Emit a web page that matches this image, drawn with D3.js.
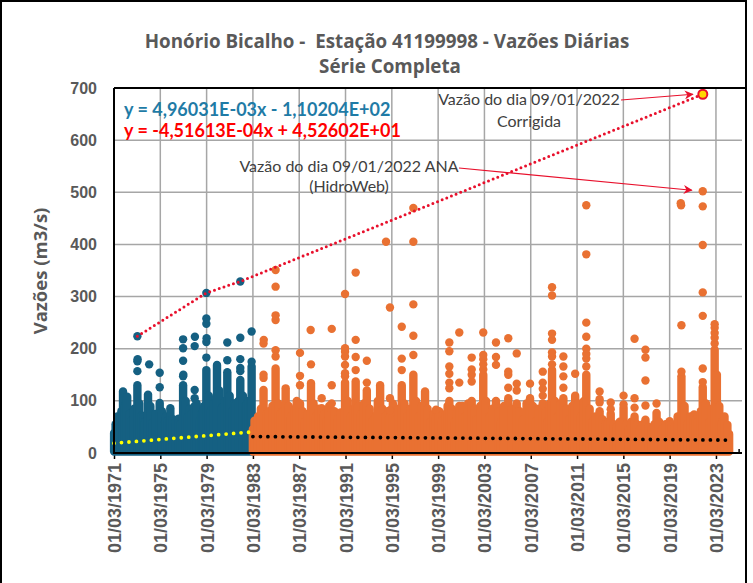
<!DOCTYPE html>
<html>
<head>
<meta charset="utf-8">
<script src="https://cdn.jsdelivr.net/npm/d3@7"></script>
<style>
  body { margin: 0; background: #fff; }
  svg { display: block; }
</style>
</head>
<body>
<div id="chart"></div>
<script>
// ---- values ----
// piles of daily points: [decimal year, top of the solid pile (m3/s)]
const blueStacks = [
  [1971.30, 55], [1971.45, 70], [1971.60, 48], [1971.80, 80], [1971.94, 118], [1972.10, 90],
  [1972.30, 108], [1972.50, 75], [1972.65, 62], [1972.90, 85], [1973.18, 130], [1973.35, 95],
  [1973.55, 72], [1973.70, 70], [1973.85, 60], [1974.10, 112], [1974.30, 90], [1974.50, 58],
  [1974.75, 75], [1975.11, 96], [1975.30, 80], [1975.50, 55], [1975.65, 70], [1975.80, 62],
  [1975.95, 60], [1976.03, 86], [1976.25, 65], [1976.45, 58], [1976.75, 66], [1976.90, 55],
  [1977.13, 130], [1977.35, 100], [1977.55, 70], [1977.70, 85], [1977.85, 75], [1978.13, 90],
  [1978.30, 95], [1978.55, 62], [1978.70, 75], [1978.85, 80], [1978.95, 90], [1979.14, 159],
  [1979.35, 110], [1979.55, 82], [1979.75, 95], [1980.06, 169], [1980.25, 120], [1980.50, 88],
  [1980.75, 100], [1980.95, 155], [1981.15, 110], [1981.40, 80], [1981.55, 95], [1981.70, 95],
  [1981.90, 100], [1982.07, 140], [1982.30, 110], [1982.50, 90], [1982.65, 95], [1982.80, 100],
  [1982.95, 100], [1983.05, 166]
];
// isolated daily points above the piles: [decimal year, m3/s]
const blueDots = [
  [1973.18, 157], [1973.18, 176], [1973.20, 180], [1973.18, 224],
  [1974.20, 170], [1975.11, 126], [1975.11, 154],
  [1977.13, 147], [1977.15, 150], [1977.13, 177], [1977.13, 201], [1977.13, 218],
  [1978.13, 105], [1978.13, 121], [1978.13, 205], [1978.15, 223],
  [1979.14, 183], [1979.14, 213], [1979.16, 220], [1979.14, 248], [1979.14, 258], [1979.14, 307],
  [1980.95, 178], [1980.95, 212],
  [1982.07, 157], [1982.07, 163], [1982.07, 180], [1982.07, 221], [1982.07, 329],
  [1983.05, 175], [1983.05, 233]
];
const orangeStacks = [
  [1983.30, 62], [1983.60, 70], [1983.85, 85], [1984.08, 121], [1984.35, 75], [1984.55, 80],
  [1984.85, 90], [1985.12, 162], [1985.35, 95], [1985.55, 75], [1985.75, 80], [1985.99, 124],
  [1986.25, 90], [1986.45, 70], [1986.80, 85], [1986.95, 100], [1987.23, 95], [1987.45, 80],
  [1987.65, 60], [1987.90, 75], [1988.18, 134], [1988.40, 95], [1988.60, 70], [1988.85, 85],
  [1989.10, 86], [1989.30, 75], [1989.50, 62], [1989.75, 90], [1989.97, 80], [1990.20, 80],
  [1990.45, 65], [1990.75, 78], [1991.12, 135], [1991.35, 100], [1991.60, 70], [1991.85, 85],
  [1992.04, 137], [1992.25, 90], [1992.50, 75], [1992.75, 95], [1993.00, 120], [1993.25, 85],
  [1993.50, 62], [1993.80, 72], [1993.95, 100], [1994.15, 130], [1994.35, 85], [1994.60, 70],
  [1994.85, 80], [1995.00, 70], [1995.25, 95], [1995.50, 65], [1995.75, 85], [1996.02, 130],
  [1996.25, 95], [1996.50, 70], [1996.75, 85], [1997.02, 150], [1997.25, 100], [1997.50, 70],
  [1997.75, 90], [1998.03, 118], [1998.25, 85], [1998.50, 60], [1998.75, 75], [1998.98, 70],
  [1999.25, 80], [1999.50, 62], [1999.80, 75], [1999.98, 90], [2000.13, 100], [2000.35, 85],
  [2000.60, 60], [2000.80, 80], [2000.99, 90], [2001.25, 90], [2001.50, 70], [2001.75, 95],
  [2002.06, 100], [2002.30, 85], [2002.50, 65], [2002.80, 90], [2003.06, 150], [2003.30, 100],
  [2003.60, 70], [2003.85, 85], [2004.16, 100], [2004.40, 80], [2004.60, 60], [2004.85, 90],
  [2005.22, 105], [2005.50, 85], [2005.95, 90], [2006.20, 80], [2006.50, 65], [2006.80, 95],
  [2007.10, 105], [2007.35, 90], [2007.60, 60], [2007.85, 85], [2008.20, 95], [2008.45, 80],
  [2008.60, 60], [2008.80, 95], [2009.00, 159], [2009.25, 100], [2009.50, 70], [2009.75, 95],
  [2009.98, 105], [2010.25, 85], [2010.50, 65], [2010.75, 90], [2011.00, 110], [2011.25, 95],
  [2011.50, 70], [2011.75, 100], [2011.96, 150], [2012.25, 85], [2012.50, 60], [2012.75, 70],
  [2013.11, 80], [2013.35, 65], [2013.60, 55], [2013.85, 60], [2014.07, 75], [2014.35, 55],
  [2014.60, 50], [2014.85, 60], [2015.18, 87], [2015.40, 55], [2015.60, 45], [2015.85, 60],
  [2016.13, 70], [2016.35, 55], [2016.60, 45], [2016.85, 55], [2017.07, 64], [2017.35, 50],
  [2017.60, 45], [2017.85, 55], [2018.03, 77], [2018.25, 60], [2018.50, 45], [2018.80, 55],
  [2019.16, 61], [2019.35, 55], [2019.60, 50], [2019.85, 70], [2020.18, 147], [2020.45, 90],
  [2020.70, 55], [2020.95, 70], [2021.27, 74], [2021.45, 65], [2021.60, 60], [2021.85, 80],
  [2022.02, 126], [2022.30, 95], [2022.60, 60], [2022.80, 85], [2023.05, 198], [2023.24, 150],
  [2023.45, 90], [2023.70, 60], [2023.90, 70], [2024.15, 54]
];
const orangeDots = [
  [1984.08, 144], [1984.08, 150], [1984.08, 210], [1984.10, 217],
  [1985.12, 185], [1985.12, 197], [1985.12, 255], [1985.12, 264], [1985.12, 319], [1985.12, 351],
  [1987.23, 130], [1987.23, 148], [1987.23, 192],
  [1988.18, 170], [1988.15, 236], [1989.10, 105],
  [1989.97, 95], [1989.97, 130], [1989.97, 238],
  [1991.12, 147], [1991.12, 153], [1991.12, 169], [1991.12, 185], [1991.12, 194], [1991.12, 201], [1991.12, 305],
  [1992.04, 159], [1992.04, 184], [1992.04, 217], [1992.04, 346],
  [1993.00, 135], [1993.00, 177],
  [1994.66, 405], [1995.00, 82], [1995.00, 105], [1995.00, 279],
  [1996.02, 159], [1996.02, 181], [1996.02, 242],
  [1997.02, 188], [1997.02, 225], [1997.02, 285], [1997.02, 405], [1997.02, 470],
  [1998.98, 83],
  [2000.13, 124], [2000.13, 135], [2000.13, 152], [2000.13, 166], [2000.13, 195], [2000.13, 212],
  [2000.99, 135], [2000.99, 231],
  [2002.06, 137], [2002.06, 150], [2002.06, 160], [2002.06, 183],
  [2003.06, 160], [2003.06, 170], [2003.06, 180], [2003.06, 188], [2003.06, 231],
  [2004.16, 169], [2004.16, 184], [2004.16, 212],
  [2005.22, 125], [2005.22, 150], [2005.22, 156], [2005.22, 220],
  [2005.95, 95], [2005.95, 120], [2005.95, 133], [2005.95, 191],
  [2007.10, 133],
  [2008.20, 110], [2008.20, 123], [2008.20, 135], [2008.20, 156],
  [2009.00, 170], [2009.00, 185], [2009.00, 193], [2009.00, 217], [2009.00, 229], [2009.00, 302], [2009.00, 318],
  [2009.98, 125], [2009.98, 147], [2009.98, 166], [2009.98, 185],
  [2011.00, 152],
  [2011.96, 166], [2011.96, 181], [2011.96, 190], [2011.96, 200], [2011.96, 223], [2011.96, 250], [2011.96, 381], [2011.96, 475],
  [2013.11, 97], [2013.11, 103], [2013.11, 118],
  [2014.07, 84], [2014.07, 97], [2015.18, 93], [2015.18, 110],
  [2016.13, 87], [2016.13, 105], [2016.13, 219],
  [2017.07, 91], [2017.07, 139], [2017.07, 183], [2017.07, 198],
  [2018.03, 95],
  [2020.18, 156], [2020.18, 245], [2020.15, 475], [2020.12, 479],
  [2022.02, 136], [2022.02, 162], [2022.02, 263], [2022.02, 308], [2022.02, 399], [2022.02, 473], [2022.02, 502],
  [2023.05, 210], [2023.05, 221], [2023.05, 230], [2023.05, 240], [2023.05, 247]
];
// low-flow band (top of the solid floor of points)
const blueBaseYears = [1971.17, 1972, 1973, 1974, 1975, 1976, 1977, 1978, 1979, 1980, 1981, 1982, 1983.16];
const blueBaseTop   = [38, 42, 40, 38, 36, 40, 42, 38, 45, 44, 42, 45, 42];
const orangeBaseYears = [1983.16, 1984, 1986, 1988, 1990, 1992, 1994, 1996, 1998, 2000, 2002, 2004, 2006,
  2008, 2010, 2012, 2013, 2014, 2015, 2016, 2017, 2018, 2019, 2020, 2021, 2022, 2023, 2024.3];
const orangeBaseTop = [45, 46, 44, 42, 42, 44, 42, 45, 40, 40, 42, 40, 40, 44, 42, 42, 36, 32, 30, 28, 30, 30, 32, 38, 38, 42, 40, 36];
// record-flow line (red dotted) and the corrected 09/01/2022 value
const recordYears  = [1973.18, 1979.14, 1982.07, 2022.025];
const recordValues = [224, 307, 329, 688];
const corrected = [2022.025, 688];
// linear trendlines as printed on the chart (x = Excel date serial)
const blueTrend   = { a: 4.96031e-3, b: -1.10204e2, from: '1971-03-01', to: '1983-03-01' };
const orangeTrend = { a: -4.51613e-4, b: 4.52602e1, from: '1983-03-01', to: '2024-04-15' };
const yTicks = [0, 100, 200, 300, 400, 500, 600, 700];
const tickStartYear = 1971, tickEndYear = 2023;

// ---- layout ----
const W = 753, H = 583;
const L = 114, R = 742, T = 88, B = 453;
const BLUE = '#156082', ORANGE = '#E97132', GREY = '#595959', RED = '#E8102C';

const yearToDate = yr => {
  const y = Math.floor(yr);
  return new Date(new Date(y, 0, 1).getTime() + (yr - y) * 365.25 * 864e5);
};
const serial = d => (d - new Date(1899, 11, 30)) / 864e5;

const x = d3.scaleTime([new Date(1971, 2, 1), yearToDate(2025.41)], [L, R]);
const y = d3.scaleLinear([0, 700], [B, T]);

const svg = d3.select('#chart').append('svg')
  .attr('width', W).attr('height', H)
  .style('font-family', "'Open Sans', sans-serif");

svg.append('rect').attr('x', 1).attr('y', 1).attr('width', W - 8).attr('height', H + 4)
  .attr('fill', '#fff').attr('stroke', '#000').attr('stroke-width', 2);

// title
const title = svg.append('text').attr('text-anchor', 'middle').attr('fill', GREY)
  .style('font-weight', 700).style('font-size', '18.8px').style('white-space', 'pre');
title.append('tspan').attr('x', 387).attr('y', 48).text('Honório Bicalho -  Estação 41199998 - Vazões Diárias');
title.append('tspan').attr('x', 390).attr('y', 73).text('Série Completa');

// grid
const majorDates = d3.range(tickStartYear, tickEndYear + 1, 4).map(yr => new Date(yr, 2, 1));
const minorDates = d3.range(tickStartYear, 2026).map(yr => new Date(yr, 2, 1)).filter(d => x(d) <= R);
svg.append('g').selectAll('line').data(yTicks.slice(1)).join('line')
  .attr('x1', L).attr('x2', R).attr('y1', d => y(d)).attr('y2', d => y(d))
  .attr('stroke', '#A6A6A6').attr('stroke-width', 1.5);
svg.append('g').selectAll('line').data(majorDates.slice(1)).join('line')
  .attr('x1', d => x(d)).attr('x2', d => x(d)).attr('y1', T).attr('y2', B)
  .attr('stroke', '#A6A6A6').attr('stroke-width', 1.5);

// axes
const axisY = svg.append('g').attr('transform', `translate(${L},0)`)
  .call(d3.axisLeft(y).tickValues(yTicks).tickSize(0).tickPadding(17));
axisY.select('.domain').remove();
axisY.selectAll('text').attr('fill', GREY)
  .style('font-family', "'Liberation Sans', Arial, sans-serif").style('font-weight', 700).style('font-size', '16px');

const axisX = svg.append('g').attr('transform', `translate(0,${B})`)
  .call(d3.axisBottom(x).tickValues(majorDates).tickSize(6).tickFormat(d3.timeFormat('%d/%m/%Y')));
axisX.select('.domain').remove();
axisX.selectAll('line').attr('stroke', '#000').attr('stroke-width', 1.5);
axisX.selectAll('text').attr('fill', GREY)
  .style('font-family', "'Liberation Sans', Arial, sans-serif").style('font-weight', 700).style('font-size', '18px')
  .attr('text-anchor', 'end').attr('transform', 'rotate(-90)')
  .attr('x', -10).attr('y', 0).attr('dy', '0.36em');
svg.append('g').selectAll('line').data(minorDates).join('line')
  .attr('x1', d => x(d)).attr('x2', d => x(d)).attr('y1', B).attr('y2', B - 4)
  .attr('stroke', '#000').attr('stroke-width', 1.5);

svg.append('text').attr('transform', 'translate(47,271) rotate(-90)')
  .attr('text-anchor', 'middle').attr('fill', GREY)
  .style('font-weight', 700).style('font-size', '18.5px').text('Vazões (m3/s)');

// series
const r = 4.2;
function drawSeries(stacks, dots, baseYears, baseTop, color) {
  const g = svg.append('g');
  g.append('path')
    .datum(baseYears.map((yr, i) => [yr, baseTop[i]]))
    .attr('d', d3.area().x(d => x(yearToDate(d[0]))).y0(y(3)).y1(d => y(d[1])).curve(d3.curveMonotoneX))
    .attr('fill', color).attr('stroke', color).attr('stroke-width', 2 * r).attr('stroke-linejoin', 'round');
  g.selectAll('line').data(stacks).join('line')
    .attr('x1', d => x(yearToDate(d[0]))).attr('x2', d => x(yearToDate(d[0])))
    .attr('y1', y(6)).attr('y2', d => y(d[1]))
    .attr('stroke', color).attr('stroke-width', 2 * r).attr('stroke-linecap', 'round');
  g.selectAll('circle').data(dots).join('circle')
    .attr('cx', d => x(yearToDate(d[0]))).attr('cy', d => y(d[1])).attr('r', r)
    .attr('fill', color);
}
drawSeries(blueStacks, blueDots, blueBaseYears, blueBaseTop, BLUE);
drawSeries(orangeStacks, orangeDots, orangeBaseYears, orangeBaseTop, ORANGE);

// trendlines
function drawTrend(t, color) {
  const ends = [new Date(t.from), new Date(t.to)];
  svg.append('line')
    .attr('x1', x(ends[0])).attr('y1', y(t.a * serial(ends[0]) + t.b))
    .attr('x2', x(ends[1])).attr('y2', y(t.a * serial(ends[1]) + t.b))
    .attr('stroke', color).attr('stroke-width', 3.8).attr('stroke-linecap', 'round')
    .attr('stroke-dasharray', '0 7.5');
}
drawTrend(blueTrend, '#FFFF00');
drawTrend(orangeTrend, '#000');

// record line
svg.append('path')
  .datum(recordYears.map((yr, i) => [yr, recordValues[i]]))
  .attr('d', d3.line().x(d => x(yearToDate(d[0]))).y(d => y(d[1])))
  .attr('fill', 'none').attr('stroke', RED).attr('stroke-width', 3)
  .attr('stroke-linecap', 'round').attr('stroke-dasharray', '0 5');
svg.append('circle')
  .attr('cx', x(yearToDate(corrected[0]))).attr('cy', y(corrected[1])).attr('r', 4.5)
  .attr('fill', '#FFD700').attr('stroke', RED).attr('stroke-width', 2);

// frame lines of the plot area
svg.append('line').attr('x1', L).attr('x2', W - 8).attr('y1', T).attr('y2', T).attr('stroke', '#000').attr('stroke-width', 2);
svg.append('line').attr('x1', L).attr('x2', L).attr('y1', T).attr('y2', B + 1).attr('stroke', '#000').attr('stroke-width', 2);
svg.append('line').attr('x1', L).attr('x2', R).attr('y1', B).attr('y2', B).attr('stroke', '#000').attr('stroke-width', 2);

// equations (tighter face so the two lines sit as close as in the original)
const eqFont = "Lato, 'Open Sans', sans-serif";
svg.append('text').attr('x', 124).attr('y', 116).attr('fill', '#1F7BA6')
  .style('font-family', eqFont).style('font-weight', 700).style('font-size', '18px')
  .text('y = 4,96031E-03x - 1,10204E+02');
svg.append('text').attr('x', 124).attr('y', 137).attr('fill', '#FF0000')
  .style('font-family', eqFont).style('font-weight', 700).style('font-size', '18px')
  .text('y = -4,51613E-04x + 4,52602E+01');

// annotations
const defs = svg.append('defs');
defs.append('marker').attr('id', 'arr').attr('viewBox', '0 0 10 10').attr('refX', 9).attr('refY', 5)
  .attr('markerWidth', 9).attr('markerHeight', 9).attr('orient', 'auto-start-reverse')
  .attr('markerUnits', 'userSpaceOnUse')
  .append('path').attr('d', 'M0,0 L10,5 L0,10 L3,5 Z').attr('fill', RED);

const note = (lines, cx) => {
  const t = svg.append('text').attr('text-anchor', 'middle').attr('fill', '#404040')
    .style('font-family', eqFont).style('font-size', '16px');
  lines.forEach(([txt, yy]) => t.append('tspan').attr('x', cx).attr('y', yy).text(txt));
};
note([['Vazão do dia 09/01/2022', 105], ['Corrigida', 127]], 529);
note([['Vazão do dia 09/01/2022 ANA', 172], ['(HidroWeb)', 192]], 349);

svg.append('line').attr('x1', 621).attr('y1', 100)
  .attr('x2', x(yearToDate(corrected[0])) - 10).attr('y2', y(corrected[1]))
  .attr('stroke', RED).attr('stroke-width', 1.2).attr('marker-end', 'url(#arr)');
svg.append('line').attr('x1', 459).attr('y1', 168)
  .attr('x2', x(yearToDate(2022.02)) - 11).attr('y2', y(502) - 1)
  .attr('stroke', RED).attr('stroke-width', 1.2).attr('marker-end', 'url(#arr)');
</script>
</body>
</html>
